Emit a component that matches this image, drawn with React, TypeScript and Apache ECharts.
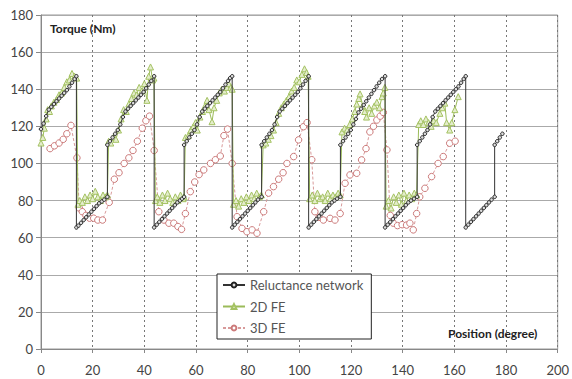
import React, { useEffect, useRef } from "react";
import * as echarts from "echarts";

const seriesNames = ["Reluctance network", "2D FE", "3D FE"];
const yTitle = "Torque (Nm)";
const xTitle = "Position (degree)";

// Reluctance network [position, torque]
const reluctanceNetwork: [number, number][] = [
  [0, 118.5], [1, 121.5], [2, 125.5], [3, 129], [4, 130.5], [5, 132], [6, 133.5], [7, 135], [8, 136.5], [9, 138], [10, 139.5], [11, 141.5], [12, 143.5], [13, 145.5], [13.7, 147],
  [13.7, 65.5], [14.5, 66.5], [15.5, 68], [16.5, 69.5], [17.5, 71], [18.5, 72.5], [19.5, 74], [20.5, 75.5], [21.5, 77], [22.5, 78.5], [23.5, 79.5], [24.5, 80.5], [25.7, 82],
  [25.7, 110], [26.7, 112], [27.7, 114], [28.7, 116], [29.7, 118], [30.7, 121], [31.7, 125], [32.7, 128], [33.7, 129.5], [34.7, 131], [35.7, 132.5], [36.7, 134], [37.7, 135.5], [38.7, 137], [39.7, 138.5], [40.7, 140.5], [41.7, 142.5], [42.7, 144.5], [43.8, 147],
  [43.8, 65.5], [44.8, 67], [45.8, 68.5], [46.8, 70], [47.8, 71.5], [48.8, 73], [49.8, 74.5], [50.8, 76], [51.8, 77.5], [52.8, 79], [53.8, 80], [54.6, 81], [55.4, 82],
  [55.4, 110], [56.4, 112], [57.4, 114], [58.4, 116], [59.4, 118], [60.4, 121], [61.4, 125], [62.4, 128], [63.4, 129.5], [64.4, 131], [65.4, 132.5], [66.4, 134], [67.4, 135.5], [68.4, 137], [69.4, 138.5], [70.4, 140.5], [71.4, 142.5], [72.4, 144.5], [73.2, 146], [74, 147],
  [74, 65.5], [75, 67], [76, 68.5], [77, 70], [78, 71.5], [79, 73], [80, 74.5], [81, 76], [82, 77.5], [83, 79], [84, 80.5], [85.4, 82],
  [85.4, 110], [86.4, 112], [87.4, 114], [88.4, 116], [89.4, 118], [90.4, 121], [91.4, 125], [92.4, 128], [93.4, 129.5], [94.4, 131], [95.4, 132.5], [96.4, 134], [97.4, 135.5], [98.4, 137], [99.4, 138.5], [100.4, 140.5], [101.4, 142.5], [102.4, 144.5], [103.6, 147],
  [103.6, 65.5], [104.6, 67], [105.6, 68.5], [106.6, 70], [107.6, 71.5], [108.6, 73], [109.6, 74.5], [110.6, 76], [111.6, 77.5], [112.6, 79], [113.6, 80], [114.6, 81], [115.9, 82],
  [115.9, 110], [116.9, 112], [117.9, 114], [118.9, 116], [119.9, 118], [120.9, 121], [121.9, 124], [122.9, 127.5], [123.9, 129.5], [124.9, 131.5], [125.9, 133.5], [126.9, 135.5], [127.9, 137.5], [128.9, 139.5], [129.9, 141.5], [130.9, 143.5], [132, 145.5], [133.2, 147],
  [133.2, 65.5], [134.2, 67], [135.2, 68.5], [136.2, 70], [137.2, 71.5], [138.2, 73], [139.2, 74.5], [140.2, 76], [141.2, 77.5], [142.2, 79], [143.2, 80], [144.4, 81], [145.6, 82],
  [145.6, 110], [146.6, 112], [147.6, 114], [148.6, 116], [149.6, 118], [150.6, 121], [151.6, 125], [152.6, 128], [153.6, 129.5], [154.6, 131], [155.6, 132.5], [156.6, 134], [157.6, 135.5], [158.6, 137], [159.6, 138.5], [160.6, 140], [161.6, 141.5], [162.6, 143.5], [163.6, 145.5], [164.4, 147],
  [164.4, 65.5], [165.4, 67], [166.4, 68.5], [167.4, 70], [168.4, 71.5], [169.4, 73], [170.4, 74.5], [171.4, 76], [172.4, 77.5], [173.4, 79], [174.4, 80.5], [175.6, 82],
  [175.6, 110], [176.6, 112], [177.6, 114], [178.6, 116],
];

// 2D FE [position, torque]
const fe2d: [number, number][] = [
  [0, 111], [0.7, 114], [1.3, 119], [2, 124], [2.6, 129], [3.3, 128], [4, 131], [5, 133], [6, 134.5], [7, 137], [8, 138], [9, 141], [10, 144], [11, 145], [12, 148.5], [13, 147], [13.8, 146],
  [14.3, 78], [15, 80], [16, 79], [17, 82], [18, 80], [19, 83], [20, 81], [21, 85], [22, 82], [23, 80], [24, 83], [25, 82], [25.7, 83],
  [26.2, 112], [27, 111], [28, 114], [29, 113], [30, 118], [31, 124], [32, 129], [33, 128], [34, 132], [35, 135], [36, 138], [37, 137], [38, 141], [39, 139], [40, 143], [41, 134], [41.7, 147], [42.4, 152], [43.2, 145], [43.7, 146],
  [44.3, 80], [45, 82], [46, 79], [47, 83], [48, 80], [49, 84], [50, 81], [51, 79], [52, 82], [53, 80], [54, 83], [55, 81], [55.4, 82],
  [55.9, 114], [57, 115], [58, 118], [59, 120], [59.8, 122], [60.5, 118], [61.5, 125], [62.5, 128], [63.5, 131], [64.3, 134], [65, 129], [66.2, 122.5], [67, 130], [68, 134], [69, 138], [70, 140], [71, 139], [72, 141], [72.7, 143], [73.5, 141], [74, 140],
  [74.5, 78], [75.5, 80], [76.5, 77], [77.5, 81], [78.5, 79], [79.5, 82], [80.5, 80], [81.5, 83], [82.5, 81], [83.5, 84], [84.5, 82], [85.3, 83],
  [86, 110], [87, 111], [88, 113], [89, 115], [90, 118], [91, 122], [92, 127], [93, 130], [94, 132], [95, 134], [96, 136], [97, 139], [98, 141], [99, 145], [100, 144], [101, 148], [102, 151], [102.8, 149], [103.4, 147],
  [104, 81], [105, 83], [106, 80], [107, 84], [108, 81], [109, 82], [110, 80], [111, 84], [112, 81], [113, 83], [114, 82], [115, 84], [115.8, 83],
  [116.5, 117], [117.5, 119], [118.5, 118], [119.5, 121], [120.5, 124], [121.5, 128], [122.2, 132], [123, 135], [123.5, 137.5], [124.5, 131], [125.3, 128], [126, 125], [127, 130], [128, 127], [129, 131], [130, 133], [131, 130], [132, 136], [132.5, 138], [133.1, 141],
  [133.6, 77], [134.5, 80], [135.5, 76], [136.5, 82], [137.5, 79], [138.5, 83], [139.5, 78], [140.5, 84], [141.5, 80], [142.5, 83], [143.5, 81], [144.5, 84], [145.4, 83],
  [146.2, 121], [147, 123], [148, 121], [149, 124], [150, 122], [151, 120], [152, 123], [153, 122], [154.4, 127], [155.3, 130], [156.3, 132.5], [157, 122], [158.2, 118], [159, 122], [160.2, 129], [161.5, 136],
];

// 3D FE [position, torque]
const fe3d: [number, number][] = [
  [3.5, 108], [5.2, 109.5], [7, 111], [8.6, 113], [10, 116], [11.6, 120.5],
  [13.9, 103], [14.8, 76], [16, 74], [17.4, 72], [18.8, 70.5], [20.4, 70.5], [22, 69.5], [23.8, 69.5],
  [26.4, 79], [28.4, 91.5], [30.2, 95], [32.2, 100], [34, 103], [35.6, 107], [37.3, 112], [39.2, 119], [40.6, 123], [42, 125.5],
  [43.8, 107], [45.6, 74], [47.6, 69.5], [49.5, 67.8], [51.4, 67.8], [53, 66], [54.4, 64.5],
  [55.9, 73], [57.8, 84.8], [59.5, 90], [61.2, 94], [63, 96.5], [65.6, 100], [67.5, 102], [69.4, 104], [70.8, 115], [72.2, 118.5],
  [74, 100], [75.9, 71.3], [77.8, 65], [79.7, 63.2], [81.7, 64.2], [83.6, 62.4],
  [86.2, 74], [88.1, 84], [90, 87.5], [92, 91.5], [93.7, 95], [95.2, 100], [97.8, 103.7], [99.7, 112.7], [101.6, 119.8], [103, 122],
  [104.8, 102], [106, 74], [107.6, 71], [109.3, 69.5], [111.9, 70.4], [113.8, 69.5],
  [115.8, 73], [117.7, 89.3], [119.6, 93.8], [122.2, 94.7], [124.1, 101.9], [125.8, 108], [127.3, 117], [128.7, 120], [130, 123.4], [131.3, 125.5], [132.5, 127.5],
  [133.9, 107.3], [135.2, 72], [136.4, 67.8], [138, 66.5], [139.8, 67], [141.5, 66.8], [142.8, 67.8], [144.1, 64.2],
  [145.4, 73], [146.6, 82], [148.6, 86.6], [151.2, 92.9], [153.7, 100], [155.7, 103.7], [158.2, 110.9], [160.3, 112],
];

const FONT = "Lato, 'Open Sans', sans-serif";

export default function App() {
  const ref = useRef<HTMLDivElement>(null);
  useEffect(() => {
    document.body.style.margin = "0";
    if (!ref.current) return;
    const chart = echarts.init(ref.current, null, { renderer: "svg" });
    chart.setOption({
      animation: false,
      backgroundColor: "#fff",
      textStyle: { fontFamily: FONT },
      grid: { left: 41, right: 12, top: 15, bottom: 30, show: true, borderColor: "#999", borderWidth: 1 },
      xAxis: {
        type: "value",
        min: 0,
        max: 200,
        interval: 20,
        axisLine: { show: true, lineStyle: { color: "#888" } },
        axisTick: { show: true, length: 4, lineStyle: { color: "#888" } },
        axisLabel: { margin: 14, fontSize: 13, color: "#444", fontFamily: FONT },
        splitLine: { show: true, lineStyle: { color: "#777", type: [2, 3], width: 1 } },
      },
      yAxis: {
        type: "value",
        min: 0,
        max: 180,
        interval: 20,
        axisLine: { show: true, lineStyle: { color: "#888" } },
        axisTick: { show: true, length: 5, lineStyle: { color: "#888" } },
        axisLabel: { margin: 8, fontSize: 13, color: "#444", fontFamily: FONT },
        splitLine: { show: true, lineStyle: { color: "#aaa", width: 1 } },
      },
      legend: {
        orient: "vertical",
        left: 217,
        top: 274,
        backgroundColor: "#fff",
        borderColor: "#222",
        borderWidth: 1,
        padding: [4, 8, 4, 5],
        itemGap: 7.5,
        itemWidth: 22,
        itemHeight: 6,
        textStyle: { fontSize: 13, lineHeight: 14, color: "#555", fontFamily: FONT },
        data: seriesNames,
      },
      graphic: [
        {
          type: "text",
          left: 50,
          top: 22,
          style: { text: yTitle, font: `bold 12px ${FONT}`, fill: "#222" },
          z: 10,
        },
        {
          type: "text",
          left: 448,
          top: 327,
          style: { text: xTitle, font: `bold 12px ${FONT}`, fill: "#222" },
          z: 10,
        },
      ],
      series: [
        {
          name: seriesNames[0],
          type: "line",
          data: reluctanceNetwork,
          z: 4,
          symbol: "circle",
          symbolSize: 3.5,
          showAllSymbol: true,
          lineStyle: { color: "#333", width: 1 },
          itemStyle: { color: "#ddd", borderColor: "#222", borderWidth: 1 },
        },
        {
          name: seriesNames[1],
          type: "line",
          data: fe2d,
          z: 3,
          symbol: "triangle",
          symbolSize: 6,
          showAllSymbol: true,
          lineStyle: { color: "#9bbb59", width: 1 },
          itemStyle: { color: "#e4edcc", borderColor: "#a4c262", borderWidth: 1 },
        },
        {
          name: seriesNames[2],
          type: "line",
          data: fe3d,
          z: 2,
          symbol: "circle",
          symbolSize: 6.5,
          showAllSymbol: true,
          lineStyle: { color: "#d89a9a", width: 1, type: [3, 2] },
          itemStyle: { color: "#fff", borderColor: "#cc7a7a", borderWidth: 1 },
        },
      ],
    });
    return () => chart.dispose();
  }, []);
  return <div ref={ref} style={{ position: "fixed", left: 0, top: 0, width: 572, height: 379 }} />;
}
